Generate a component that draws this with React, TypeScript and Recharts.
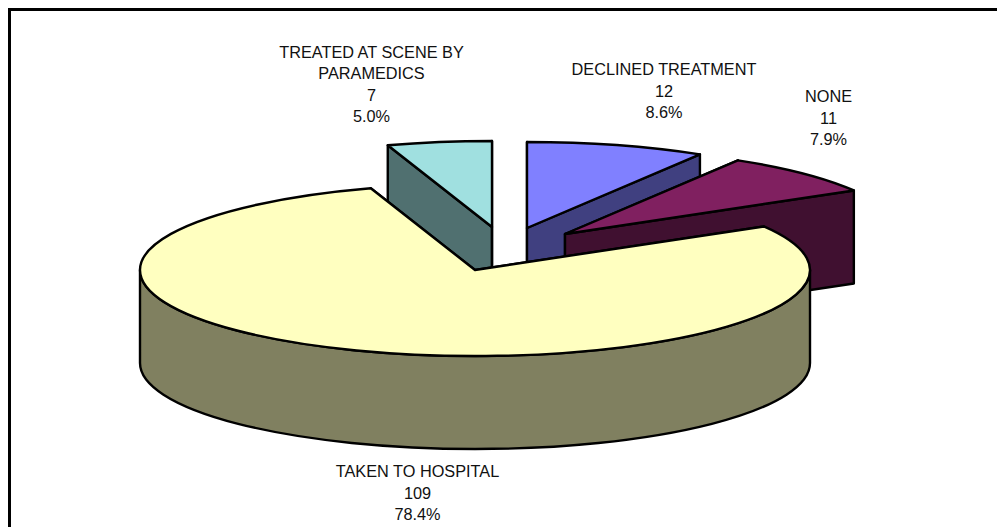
import { Pie, PieChart } from "recharts"

const categories = ["TREATED AT SCENE BY PARAMEDICS", "DECLINED TREATMENT", "NONE", "TAKEN TO HOSPITAL"]
const counts = [7, 12, 11, 109]
const labelLines = [["TREATED AT SCENE BY", "PARAMEDICS"], ["DECLINED TREATMENT"], ["NONE"], ["TAKEN TO HOSPITAL"]]

const topColors = ["#A0E0E0", "#8080FF", "#802060", "#FFFFC0"]
const wallColors = ["#507070", "#404080", "#401030", "#808060"]
// how far each slice is pulled out of the pie, in px
const explodeX = [17, 52, 90, 0]
const explodeY = [-43, -42, -36, 0]
// x centre and first baseline of each label block
const labelX = [371.5, 664, 828.5, 417.5]
const labelY = [57.5, 75, 102, 477]

const LINE_HEIGHT = 21.6
const CX = 475
const CY = 270
const RX = 335
const RY = 86
const DEPTH = 93

const total = counts.reduce((a, b) => a + b, 0)
const firstSliceAngle = (counts[0] / total) * 360

const pieData = categories.map((name, i) => ({
  name,
  value: counts[i],
  fill: topColors[i],
  wall: wallColors[i],
  dx: explodeX[i],
  dy: explodeY[i],
  lines: labelLines[i],
  lx: labelX[i],
  ly: labelY[i],
}))

// squash a polar point onto the tilted ellipse
function flat(cx: number, cy: number, angle: number, rx: number, ry: number) {
  const rad = (angle * Math.PI) / 180
  return { x: cx + rx * Math.cos(rad), y: cy - ry * Math.sin(rad) }
}

function Slice3D(props: any) {
  const { cx, cy, outerRadius, startAngle, endAngle, fill, wall, dx, dy } = props
  const ox = cx + dx
  const oy = cy + dy
  const rx = outerRadius
  const ry = (outerRadius * RY) / RX
  const a = flat(ox, oy, startAngle, rx, ry)
  const b = flat(ox, oy, endAngle, rx, ry)
  const large = startAngle - endAngle > 180 ? 1 : 0
  const line = { stroke: "#000", strokeWidth: 2.4, strokeLinejoin: "round" as const }

  const cut = (p: { x: number; y: number }) =>
    `M${ox},${oy} L${p.x},${p.y} L${p.x},${p.y + DEPTH} L${ox},${oy + DEPTH} Z`

  // only the front half of the rim can be seen
  const hi = Math.min(startAngle, 0)
  const lo = Math.max(endAngle, -180)
  let rim = null
  if (hi > lo) {
    const p = flat(ox, oy, hi, rx, ry)
    const q = flat(ox, oy, lo, rx, ry)
    rim = (
      <path
        d={`M${p.x},${p.y} A${rx},${ry} 0 0 1 ${q.x},${q.y} L${q.x},${q.y + DEPTH} A${rx},${ry} 0 0 0 ${p.x},${p.y + DEPTH} Z`}
        fill={wall}
        {...line}
      />
    )
  }

  return (
    <g>
      <path d={cut(a)} fill={wall} {...line} />
      <path d={cut(b)} fill={wall} {...line} />
      {rim}
      <path d={`M${ox},${oy} L${a.x},${a.y} A${rx},${ry} 0 ${large} 1 ${b.x},${b.y} Z`} fill={fill} {...line} />
    </g>
  )
}

function SliceLabel(props: any) {
  const { lines, lx, ly, value } = props.payload ?? props
  const rows = [...lines, String(value), `${((value / total) * 100).toFixed(1)}%`]
  return (
    <text x={lx} y={ly} textAnchor="middle" fontFamily="Liberation Sans" fontSize={16.3} fill="#111">
      {rows.map((row: string, i: number) => (
        <tspan key={i} x={lx} y={ly + i * LINE_HEIGHT}>
          {row}
        </tspan>
      ))}
    </text>
  )
}

export default function App() {
  return (
    <div style={{ position: "absolute", left: 0, top: 0, width: 997, height: 527, overflow: "hidden", background: "#fff" }}>
      <div style={{ position: "absolute", left: 8, top: 8, width: 1100, height: 700, border: "3px solid #000" }} />
      <div style={{ position: "absolute", left: 0, top: 0 }}>
        <PieChart width={997} height={527} margin={{ top: 0, right: 0, bottom: 0, left: 0 }}>
          <Pie
            data={pieData}
            dataKey="value"
            nameKey="name"
            cx={CX}
            cy={CY}
            innerRadius={0}
            outerRadius={RX}
            startAngle={90 + firstSliceAngle}
            endAngle={90 + firstSliceAngle - 360}
            stroke="#000"
            shape={Slice3D}
            label={SliceLabel}
            labelLine={false}
            isAnimationActive={false}
          />
        </PieChart>
      </div>
    </div>
  )
}
